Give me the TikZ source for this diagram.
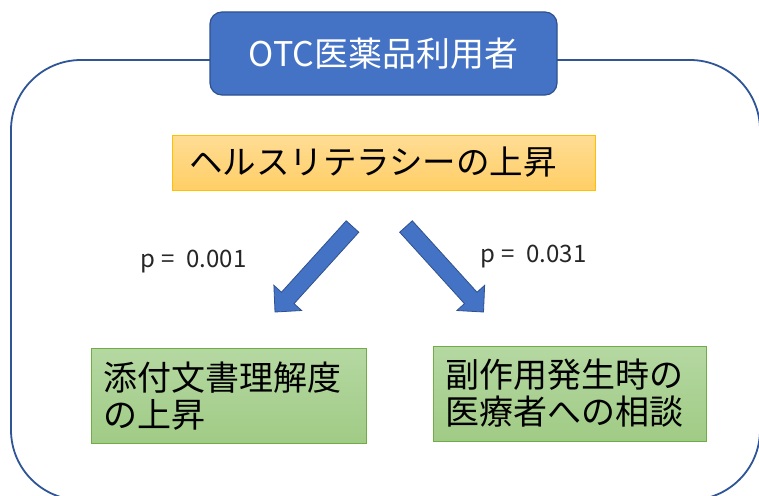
\documentclass[tikz,border=0pt]{standalone}
\usepackage{fontspec}
\newfontfamily\jp{Noto Sans CJK JP}
\definecolor{frameblue}{HTML}{2F5597}
\definecolor{boxblue}{HTML}{4472C4}
\definecolor{boxblueedge}{HTML}{2F528F}
\definecolor{orgtop}{HTML}{FFDD95}
\definecolor{orgbot}{HTML}{FFCE66}
\definecolor{orgedge}{HTML}{FFC000}
\definecolor{grntop}{HTML}{B5D8A2}
\definecolor{grnbot}{HTML}{A0CB85}
\definecolor{grnedge}{HTML}{70AD47}
\tikzset{
  titlebox/.style={draw=boxblueedge, line width=1.2pt, fill=boxblue, rounded corners=12pt,
    minimum width=347pt, minimum height=83pt, inner sep=0pt, text=white,
    font=\jp\fontsize{34}{40}\selectfont},
  orangebox/.style={draw=orgedge, line width=1pt, top color=orgtop, bottom color=orgbot,
    minimum width=423pt, minimum height=55pt, inner xsep=17pt, inner ysep=0pt,
    text width=389pt, align=left, font=\jp\fontsize{33.5}{38}\selectfont},
  greenbox/.style={draw=grnedge, line width=1pt, top color=grntop, bottom color=grnbot,
    minimum height=95pt, inner xsep=12pt, inner ysep=0pt,
    align=left, font=\jp\fontsize{34}{37}\selectfont},
  plabel/.style={anchor=west, inner sep=0pt, text=black!85, font=\jp\fontsize{24}{27}\selectfont},
  blockarrow/.style={fill=boxblue, draw=boxblueedge, line width=0.8pt, line join=miter},
  frame/.style={draw=frameblue, line width=1.8pt, rounded corners=70pt}
}
\begin{document}
\begin{tikzpicture}[x=1pt, y=-1pt]
\useasboundingbox (0,0) rectangle (759,495);
\clip (0,0) rectangle (759,495);
\fill[white] (0,0) rectangle (759,495);
% outer frame
\draw[frame] (11,60) rectangle (760,500);
% title
\node[titlebox] (title) at (383.5,53.5) {OTC医薬品利用者};
% health literacy
\node[orangebox] (hl) at (383.5,162.5) {ヘルスリテラシーの上昇};
% results
\node[greenbox, minimum width=275pt, text width=251pt] (left) at (228.5,396) {添付文書理解度\\の上昇};
\node[greenbox, minimum width=273pt, text width=249pt] (right) at (569.5,393.5) {副作用発生時の\\医療者への相談};
% block arrows
\draw[blockarrow] (358.8,232.2) -- (294.06,303.63) -- (301.65,310.51) -- (275,312)
  -- (273.87,285.33) -- (281.46,292.21) -- (346.2,220.8) -- cycle;
\draw[blockarrow] (399.7,232.2) -- (464.44,303.63) -- (456.85,310.51) -- (483.5,312)
  -- (484.63,285.33) -- (477.04,292.21) -- (412.3,220.8) -- cycle;
% p values
\node[plabel] (p1) at (140,262) {p\hspace{0.25em}=\hspace{0.5em}0.001};
\node[plabel] (p2) at (480,257) {p\hspace{0.25em}=\hspace{0.5em}0.031};
\end{tikzpicture}
\end{document}
